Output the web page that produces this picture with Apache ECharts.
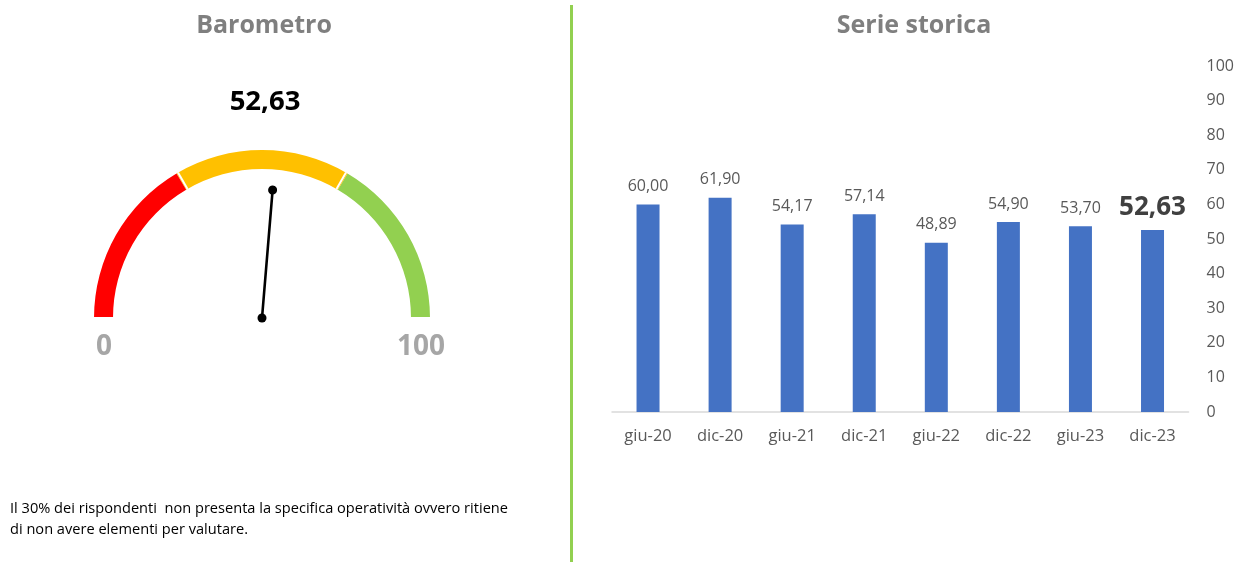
<!DOCTYPE html>
<html><head><meta charset="utf-8">
<script src="https://cdn.jsdelivr.net/npm/echarts@6/dist/echarts.min.js"></script>
<style>html,body{margin:0;padding:0;background:#fff}#c{width:1237px;height:562px}</style>
</head><body><div id="c"></div>
<script>
const categories = ['giu-20','dic-20','giu-21','dic-21','giu-22','dic-22','giu-23','dic-23'];
const values = [60.00, 61.90, 54.17, 57.14, 48.89, 54.90, 53.70, 52.63];
const gaugeValue = 52.63;
const gaugeBands = [[0.33,'#FF0000'],[0.67,'#FFC000'],[1,'#92D050']];
const gaugeEndLabels = ['0','100'];
const titles = ['Barometro','Serie storica'];
const note = ['Il 30% dei rispondenti  non presenta la specifica operatività ovvero ritiene','di non avere elementi per valutare.'];

const FONT = '"Open Sans", "Noto Sans", sans-serif';
const fmt = v => v.toFixed(2).replace('.', ',');
const last = values.length - 1;

const chart = echarts.init(document.getElementById('c'), null, {renderer:'canvas'});
chart.setOption({
  animation:false,
  textStyle:{fontFamily:FONT},
  title:[
    {text:titles[0], left:259, top:8, textAlign:'center', textStyle:{fontFamily:FONT,fontSize:25,fontWeight:'bold',color:'#7F7F7F'}},
    {text:titles[1], left:909, top:8, textAlign:'center', textStyle:{fontFamily:FONT,fontSize:25,fontWeight:'bold',color:'#7F7F7F'}}
  ],
  grid:{left:612, right:45, top:66, bottom:150},
  xAxis:{type:'category', data:categories,
    axisLine:{lineStyle:{color:'#D9D9D9',width:1.5}}, axisTick:{show:false},
    axisLabel:{color:'#595959', fontSize:16.5, fontFamily:FONT, margin:16}},
  yAxis:{type:'value', position:'right', min:0, max:100, interval:10,
    axisLine:{show:false}, axisTick:{show:false}, splitLine:{show:false},
    axisLabel:{color:'#595959', fontSize:16, fontFamily:FONT, margin:18, align:'left'}},
  series:[
    {type:'bar', data:values.map((v,i)=>({value:v,
        label: i===last ? {fontSize:26, fontWeight:'bold', color:'#404040', distance:9} : {}})),
     barWidth:23, itemStyle:{color:'#4472C4'},
     label:{show:true, position:'top', distance:10, color:'#595959', fontSize:16, fontFamily:FONT,
       formatter:p=>fmt(p.value)}},
    {type:'gauge', center:[262,318], radius:168, startAngle:180, endAngle:0, min:0, max:100,
     splitNumber:3,
     axisLine:{lineStyle:{width:19, color:gaugeBands}},
     splitLine:{show:true, distance:-19, length:19, lineStyle:{color:'#fff', width:2}},
     axisTick:{show:false}, axisLabel:{show:false},
     pointer:{icon:'path://M4.5,0 A4.5,4.5 0 1,1 4.49,0 Z M3.2,4 L5.8,4 L5.8,130 L3.2,130 Z',
       length:133, width:9, offsetCenter:[0,0], itemStyle:{color:'#000'}},
     anchor:{show:true, size:9, showAbove:true, itemStyle:{color:'#000', borderWidth:0}},
     title:{show:false},
     detail:{show:true, offsetCenter:[3,-216], formatter:v=>fmt(v),
       fontSize:27.5, fontWeight:'bold', color:'#000', fontFamily:FONT},
     data:[{value:gaugeValue}]}
  ],
  graphic:[
    {type:'rect', shape:{x:570, y:5, width:3, height:557}, style:{fill:'#92D050'}},
    {type:'text', left:96, top:333, style:{text:gaugeEndLabels[0], fontSize:28, fontWeight:'bold', fill:'#A6A6A6', fontFamily:FONT}},
    {type:'text', left:397, top:333, style:{text:gaugeEndLabels[1], fontSize:28, fontWeight:'bold', fill:'#A6A6A6', fontFamily:FONT}},
    {type:'text', left:10, top:498, style:{text:note.join('\n'), fontSize:14.6, lineHeight:21, fill:'#000', fontFamily:FONT}}
  ]
});
</script></body></html>
